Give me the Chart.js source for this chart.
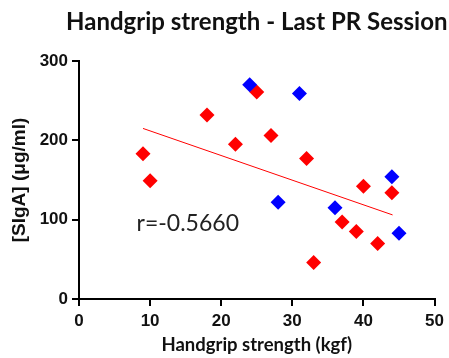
<!DOCTYPE html>
<html>
<head>
<meta charset="utf-8">
<script src="https://cdn.jsdelivr.net/npm/chart.js@4.4.0/dist/chart.umd.min.js"></script>
<style>
  html, body { margin: 0; padding: 0; background: #ffffff; }
  #wrap { width: 449px; height: 358px; }
</style>
</head>
<body>
<div id="wrap"><canvas id="c" width="449" height="358"></canvas></div>
<script>
// ---- Data ----
const chartTitle = 'Handgrip strength - Last PR Session';
const xAxisTitle = 'Handgrip strength (kgf)';
const yAxisTitle = '[SIgA] (\u03bcg/ml)';

const redX = [9, 10, 18, 22, 25, 27, 32, 33, 37, 39, 40, 42, 44];
const redY = [183, 149, 232, 195, 261, 206, 177, 46, 97, 85, 142, 70, 134];

const blueX = [24, 31, 28, 36, 44, 45];
const blueY = [270, 259, 122, 115, 154, 83];

const trendX = [9, 44.1];
const trendY = [215, 106];

const correlationLabel = 'r=-0.5660';
const xTicks = [0, 10, 20, 30, 40, 50];
const yTicks = [0, 100, 200, 300];

// ---- build datasets ----
const toPoints = (xs, ys) => xs.map((x, i) => ({ x: x, y: ys[i] }));

const textPlugin = {
  id: 'texts',
  afterDatasetsDraw(chart) {
    const ctx = chart.ctx;
    const xs = chart.scales.x, ys = chart.scales.y;
    const area = chart.chartArea;
    ctx.save();
    // correlation label
    ctx.font = '23px Lato';
    ctx.fillStyle = '#222222';
    ctx.textAlign = 'left';
    ctx.textBaseline = 'middle';
    ctx.fillText(correlationLabel, xs.getPixelForValue(8.1), ys.getPixelForValue(95));
    // chart title, centred over the plot area
    ctx.font = 'bold 24px Lato';
    ctx.fillStyle = '#111111';
    ctx.textAlign = 'center';
    ctx.fillText(chartTitle, (area.left + area.right) / 2, 22);
    ctx.restore();
  }
};

new Chart(document.getElementById('c'), {
  type: 'scatter',
  data: {
    datasets: [
      {
        label: 'Blue',
        data: toPoints(blueX, blueY),
        pointStyle: 'rectRot',
        pointRadius: 7.5,
        pointHoverRadius: 7.5,
        backgroundColor: '#0000ff',
        borderColor: '#0000ff',
        borderWidth: 0
      },
      {
        label: 'Red',
        data: toPoints(redX, redY),
        pointStyle: 'rectRot',
        pointRadius: 7.5,
        pointHoverRadius: 7.5,
        backgroundColor: '#ff0000',
        borderColor: '#ff0000',
        borderWidth: 0
      },
      {
        type: 'line',
        label: 'Trend',
        data: toPoints(trendX, trendY),
        borderColor: '#ff0000',
        borderWidth: 1,
        pointRadius: 0,
        fill: false
      }
    ]
  },
  options: {
    responsive: false,
    animation: false,
    events: [],
    layout: { padding: { left: 0, right: 10, top: 61, bottom: 0 } },
    plugins: {
      legend: { display: false },
      tooltip: { enabled: false },
      title: { display: false }
    },
    scales: {
      x: {
        type: 'linear',
        min: 0, max: 50,
        afterBuildTicks(scale) { scale.ticks = xTicks.map(v => ({ value: v })); },
        afterFit(scale) { scale.height = 59; },
        grid: { drawOnChartArea: false, drawTicks: true, tickLength: 7, color: '#000000', lineWidth: 2 },
        border: { display: true, color: '#000000', width: 2 },
        ticks: { color: '#111111', font: { family: 'Liberation Sans', size: 17, weight: 'bold' }, padding: 5, maxRotation: 0 },
        title: { display: true, text: xAxisTitle, color: '#111111', font: { family: 'Lato', size: 18.5, weight: 'bold' }, padding: { top: 0, bottom: 2 } }
      },
      y: {
        type: 'linear',
        min: 0, max: 300,
        afterBuildTicks(scale) { scale.ticks = yTicks.map(v => ({ value: v })); },
        afterFit(scale) { scale.width = 79; },
        grid: { drawOnChartArea: false, drawTicks: true, tickLength: 7, color: '#000000', lineWidth: 2 },
        border: { display: true, color: '#000000', width: 2 },
        ticks: { color: '#111111', font: { family: 'Liberation Sans', size: 17, weight: 'bold' }, padding: 4 },
        title: { display: true, text: yAxisTitle, color: '#111111', font: { family: 'Liberation Sans', size: 19, weight: 'bold' }, padding: { top: 8, bottom: 0 } }
      }
    }
  },
  plugins: [textPlugin]
});
</script>
</body>
</html>
